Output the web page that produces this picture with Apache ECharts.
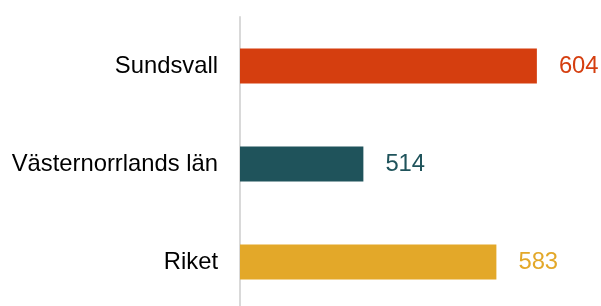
<!DOCTYPE html>
<html>
<head>
<meta charset="utf-8">
<script src="https://cdn.jsdelivr.net/npm/echarts@6/dist/echarts.min.js"></script>
<style>
  html, body { margin: 0; padding: 0; background: #fff; }
  #chart { width: 601px; height: 306px; }
</style>
</head>
<body>
<div id="chart"></div>
<script>
// 数据
const categories = ['Sundsvall', 'Västernorrlands län', 'Riket'];
const values = [604, 514, 583];
const colors = ['#D53E0F', '#1F535B', '#E3A829'];

const chart = echarts.init(document.getElementById('chart'));

chart.setOption({
    animation: false,
    grid: {
        left: 240, right: 14, top: 17, height: 294,
        containLabel: false,
        outerBoundsMode: 'none'
    },
    xAxis: {
        type: 'value',
        min: 450,
        max: 630,
        show: false,
        splitLine: { show: false }
    },
    yAxis: {
        type: 'category',
        data: categories,
        inverse: true,
        axisTick: { show: false },
        axisLine: { show: true, lineStyle: { color: '#d9d9d9', width: 2 } },
        axisLabel: {
            color: '#000',
            fontFamily: 'Liberation Sans',
            fontSize: 23.8,
            margin: 22
        }
    },
    series: [{
        type: 'bar',
        barWidth: 35,
        data: values.map((v, i) => ({
            value: v,
            itemStyle: { color: colors[i] },
            label: { color: colors[i] }
        })),
        label: {
            show: true,
            position: 'right',
            distance: 22,
            fontFamily: 'Liberation Sans',
            fontSize: 23.8
        }
    }]
});
</script>
</body>
</html>
